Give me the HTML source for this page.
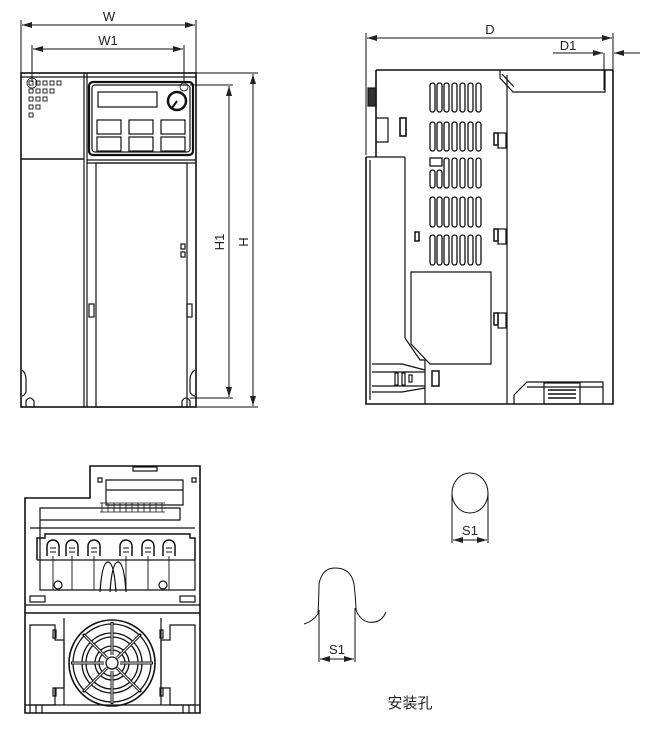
<!DOCTYPE html>
<html><head><meta charset="utf-8"><style>
html,body{margin:0;padding:0;background:#fff;}
svg{display:block;}
text{font-family:"Liberation Sans",sans-serif;fill:#222;}
</style></head><body>
<svg width="654" height="733" viewBox="0 0 654 733" xmlns="http://www.w3.org/2000/svg">
<defs>
<marker id="a" viewBox="0 0 10 6" refX="10" refY="3" markerWidth="10" markerHeight="6" orient="auto-start-reverse" markerUnits="userSpaceOnUse"><path d="M0,0 L10,3 L0,6 z" fill="#222"/></marker>
</defs>
<g fill="none" stroke="#111" stroke-width="1.2">
<!-- FRONT VIEW dims -->
<line x1="21" y1="20" x2="21" y2="73" stroke-width="1"/><line x1="196" y1="20" x2="196" y2="73" stroke-width="1"/>
<line x1="22" y1="25" x2="195" y2="25" stroke-width="1" marker-start="url(#a)" marker-end="url(#a)"/>
<line x1="32" y1="45" x2="32" y2="82" stroke-width="1"/><line x1="184" y1="45" x2="184" y2="82" stroke-width="1"/>
<line x1="33" y1="49" x2="183" y2="49" stroke-width="1" marker-start="url(#a)" marker-end="url(#a)"/>
<line x1="196" y1="73" x2="258" y2="73" stroke-width="1"/><line x1="196" y1="407" x2="258" y2="407" stroke-width="1"/>
<line x1="253" y1="74" x2="253" y2="406" stroke-width="1" marker-start="url(#a)" marker-end="url(#a)"/>
<line x1="190" y1="85" x2="233" y2="85" stroke-width="1"/><line x1="190" y1="398" x2="233" y2="398" stroke-width="1"/>
<line x1="229" y1="86" x2="229" y2="397" stroke-width="1" marker-start="url(#a)" marker-end="url(#a)"/>
<!-- front body -->
<rect x="21" y="73" width="175" height="334" stroke-width="1.6"/>
<line x1="21" y1="77" x2="196" y2="77"/>
<line x1="84" y1="73" x2="84" y2="407"/><line x1="87" y1="73" x2="87" y2="407"/>
<line x1="21" y1="159" x2="84" y2="159" stroke-width="1.6"/>
<line x1="87" y1="160" x2="196" y2="160"/>
<rect x="89" y="82" width="104" height="73" rx="4" stroke-width="2.2"/>
<rect x="92" y="85" width="98" height="67" rx="3"/>
<rect x="98" y="92" width="59" height="15"/>
<circle cx="177" cy="101" r="9" stroke-width="2.5"/><line x1="177" y1="101" x2="172" y2="108" stroke-width="2"/>
<rect x="97" y="120" width="24" height="14"/><rect x="129" y="120" width="24" height="14"/><rect x="161" y="120" width="24" height="14"/>
<rect x="97" y="137" width="24" height="14"/><rect x="129" y="137" width="24" height="14"/><rect x="161" y="137" width="24" height="14"/>
<circle cx="184" cy="87" r="4" stroke-width="0.8"/><circle cx="32" cy="83" r="5" stroke-width="0.8"/>
<rect x="96" y="163" width="91" height="244"/>
<line x1="87" y1="163" x2="196" y2="163"/>
<rect x="181" y="244" width="4" height="5"/><rect x="181" y="252" width="4" height="5"/>
<rect x="89" y="304" width="5" height="13"/><rect x="187" y="304" width="5" height="13"/>
<path d="M22 370 q4 3 4 10 v12 q-2 4 -4 4"/><path d="M195 370 q-5 3 -5 10 v12 q2 4 5 4"/>
<path d="M26 407 v-6 q4 -6 8 0 v6"/><path d="M182 407 v-6 q4 -6 8 0 v6"/>
<g stroke-width="0.9">
<rect x="29" y="81" width="4" height="4"/><rect x="36" y="81" width="4" height="4"/><rect x="43" y="81" width="4" height="4"/><rect x="50" y="81" width="4" height="4"/><rect x="57" y="81" width="4" height="4"/>
<rect x="29" y="89" width="4" height="4"/><rect x="36" y="89" width="4" height="4"/><rect x="43" y="89" width="4" height="4"/><rect x="50" y="89" width="4" height="4"/>
<rect x="29" y="97" width="4" height="4"/><rect x="36" y="97" width="4" height="4"/><rect x="43" y="97" width="4" height="4"/>
<rect x="29" y="105" width="4" height="4"/><rect x="36" y="105" width="4" height="4"/>
<rect x="29" y="113" width="4" height="4"/>
</g>
<!-- SIDE VIEW dims -->
<line x1="366" y1="33" x2="366" y2="155" stroke-width="1"/><line x1="613" y1="33" x2="613" y2="92" stroke-width="1"/>
<line x1="367" y1="38" x2="612" y2="38" stroke-width="1" marker-start="url(#a)" marker-end="url(#a)"/>
<line x1="553" y1="53" x2="603" y2="53" stroke-width="1" marker-end="url(#a)"/>
<line x1="640" y1="53" x2="614" y2="53" stroke-width="1" marker-end="url(#a)"/>
<line x1="604" y1="53" x2="604" y2="90" stroke-width="1"/>
<!-- side body -->
<path d="M376 70 H613 M376 70 V157 M366 157 V404 H613 V70" stroke-width="1.6"/>
<line x1="366" y1="157" x2="405" y2="157"/><line x1="405" y1="157" x2="405" y2="338"/>
<path d="M405 338 L420 360 H425 V404"/>
<line x1="370" y1="160" x2="370" y2="400"/>
<line x1="507" y1="75" x2="507" y2="404"/>
<path d="M500 70 V78 L513 92 H605 V70"/><line x1="502" y1="74" x2="514" y2="87"/>
<rect x="368" y="88" width="8" height="18" fill="#333"/>
<path d="M376 118 h12 v24 h-12"/><rect x="400" y="118" width="6" height="18" stroke-width="1.6"/>
<g stroke-width="1.3">
<rect x="430" y="83" width="5" height="29" rx="2.5"/><rect x="437" y="83" width="5" height="29" rx="2.5"/><rect x="444" y="83" width="5" height="29" rx="2.5"/><rect x="452" y="83" width="5" height="29" rx="2.5"/><rect x="460" y="83" width="5" height="29" rx="2.5"/><rect x="468" y="83" width="5" height="29" rx="2.5"/><rect x="476" y="83" width="5" height="29" rx="2.5"/>
<rect x="430" y="122" width="5" height="29" rx="2.5"/><rect x="437" y="122" width="5" height="29" rx="2.5"/><rect x="444" y="122" width="5" height="29" rx="2.5"/><rect x="452" y="122" width="5" height="29" rx="2.5"/><rect x="460" y="122" width="5" height="29" rx="2.5"/><rect x="468" y="122" width="5" height="29" rx="2.5"/><rect x="476" y="122" width="5" height="29" rx="2.5"/>
<rect x="430" y="158" width="12" height="8"/><rect x="430" y="170" width="5" height="18" rx="2.5"/><rect x="437" y="170" width="5" height="18" rx="2.5"/><rect x="444" y="158" width="5" height="30" rx="2.5"/><rect x="452" y="158" width="5" height="30" rx="2.5"/><rect x="460" y="158" width="5" height="30" rx="2.5"/><rect x="468" y="158" width="5" height="30" rx="2.5"/><rect x="476" y="158" width="5" height="30" rx="2.5"/>
<rect x="430" y="197" width="5" height="30" rx="2.5"/><rect x="437" y="197" width="5" height="30" rx="2.5"/><rect x="444" y="197" width="5" height="30" rx="2.5"/><rect x="452" y="197" width="5" height="30" rx="2.5"/><rect x="460" y="197" width="5" height="30" rx="2.5"/><rect x="468" y="197" width="5" height="30" rx="2.5"/><rect x="476" y="197" width="5" height="30" rx="2.5"/>
<rect x="430" y="235" width="5" height="30" rx="2.5"/><rect x="437" y="235" width="5" height="30" rx="2.5"/><rect x="444" y="235" width="5" height="30" rx="2.5"/><rect x="452" y="235" width="5" height="30" rx="2.5"/><rect x="460" y="235" width="5" height="30" rx="2.5"/><rect x="468" y="235" width="5" height="30" rx="2.5"/><rect x="476" y="235" width="5" height="30" rx="2.5"/>
</g>
<rect x="415" y="232" width="4" height="9" stroke-width="1.5"/>
<path d="M411 272 H491 V364 H430 L411 344 Z"/>
<rect x="494" y="133" width="4" height="12" stroke-width="1.5"/><rect x="498" y="133" width="8" height="15"/>
<rect x="494" y="229" width="4" height="12" stroke-width="1.5"/><rect x="498" y="229" width="8" height="15"/>
<rect x="494" y="313" width="4" height="12" stroke-width="1.5"/><rect x="498" y="313" width="8" height="15"/>
<path d="M372 364 H402 L425 370 M372 392 H402 L425 388 M372 372 H425 M372 386 H425"/>
<rect x="395" y="373" width="3" height="12"/><rect x="402" y="373" width="3" height="12"/><rect x="409" y="375" width="3" height="7"/>
<rect x="432" y="371" width="7" height="15" stroke-width="1.5"/>
<path d="M514 404 V395 L527 382 H603 V404"/><line x1="527" y1="387" x2="603" y2="387"/>
<rect x="544" y="383" width="36" height="21"/><g stroke-width="1.5"><line x1="548" y1="390" x2="576" y2="390"/><line x1="548" y1="394" x2="576" y2="394"/><line x1="548" y1="398" x2="576" y2="398"/></g>
<!-- BOTTOM VIEW -->
<path d="M25 713 V498 H90 V466 H200 V713 Z" stroke-width="1.6"/>
<line x1="25" y1="613" x2="200" y2="613" stroke-width="1.6"/>
<line x1="25" y1="605" x2="200" y2="605"/>
<rect x="133" y="467" width="24" height="4"/>
<rect x="98" y="478" width="4" height="4"/><rect x="192" y="478" width="4" height="4"/>
<path d="M106 480 H183 V505 H106 Z"/><line x1="106" y1="490" x2="183" y2="490"/>
<path d="M40 508 H180 V520 H40 Z M40 508 V560"/>
<g stroke-width="0.8"><line x1="100" y1="503" x2="165" y2="503"/><line x1="100" y1="512" x2="165" y2="512"/>
<path d="M102 503 v9 M108 503 v9 M114 503 v9 M120 503 v9 M126 503 v9 M132 503 v9 M138 503 v9 M144 503 v9 M150 503 v9 M156 503 v9 M162 503 v9"/></g>
<line x1="30" y1="528" x2="195" y2="528"/>
<path d="M37 560 V538 h8 v-4 h145 v4 h5 v22" stroke-width="1.5"/>
<g stroke-width="1.5">
<path d="M47 556 v-10 a6 6 0 0 1 12 0 v10"/><path d="M66 556 v-10 a6 6 0 0 1 12 0 v10"/><path d="M88 556 v-10 a6 6 0 0 1 12 0 v10"/>
<path d="M120 556 v-10 a6 6 0 0 1 12 0 v10"/><path d="M142 556 v-10 a6 6 0 0 1 12 0 v10"/><path d="M163 556 v-10 a6 6 0 0 1 12 0 v10"/>
</g>
<g stroke-width="0.9"><path d="M50 548 h6 M69 548 h6 M91 548 h6 M123 548 h6 M145 548 h6 M166 548 h6 M50 552 h6 M69 552 h6 M91 552 h6 M123 552 h6 M145 552 h6 M166 552 h6"/>
<path d="M53 556 v34 M72 556 v34 M94 556 v34 M126 556 v34 M148 556 v34 M169 556 v34"/></g>
<line x1="37" y1="560" x2="195" y2="560"/>
<path d="M40 560 V590 H195 V560"/>
<circle cx="58" cy="585" r="4"/><circle cx="163" cy="585" r="4"/>
<path d="M100 592 q2 -30 8 -30 q6 0 8 30 M110 592 q2 -30 8 -30 q6 0 8 30"/>
<rect x="30" y="596" width="15" height="6"/><rect x="180" y="596" width="15" height="6"/>
<path d="M30 625 H55 V640 H64 V688 H55 V705 H30 Z"/><path d="M195 625 H170 V640 H161 V688 H170 V705 H195 Z"/>
<path d="M64 618 V705 M161 618 V705"/>
<rect x="53" y="630" width="3" height="8"/><rect x="53" y="688" width="3" height="8"/><rect x="160" y="630" width="3" height="8"/><rect x="160" y="688" width="3" height="8"/>
<g transform="translate(112,663)">
<circle r="43" stroke-width="1.6"/><circle r="39" stroke-width="1.3"/>
<circle r="30" stroke-width="1.3"/><circle r="26" stroke-width="1.3"/>
<circle r="17" stroke-width="1.3"/><circle r="13" stroke-width="1.3"/><circle r="6" stroke-width="1.3"/>
<g stroke-width="3">
<line x1="0" y1="-41" x2="0" y2="-8"/><line x1="0" y1="41" x2="0" y2="8"/>
<line x1="-41" y1="0" x2="-8" y2="0"/><line x1="41" y1="0" x2="8" y2="0"/>
<line x1="-29" y1="-29" x2="-5" y2="-5"/><line x1="29" y1="29" x2="5" y2="5"/>
<line x1="29" y1="-29" x2="5" y2="-5"/><line x1="-29" y1="29" x2="-5" y2="5"/>
</g>
<g stroke="#fff" stroke-width="1">
<line x1="0" y1="-40" x2="0" y2="-8"/><line x1="0" y1="40" x2="0" y2="8"/>
<line x1="-40" y1="0" x2="-8" y2="0"/><line x1="40" y1="0" x2="8" y2="0"/>
<line x1="-28" y1="-28" x2="-5" y2="-5"/><line x1="28" y1="28" x2="5" y2="5"/>
<line x1="28" y1="-28" x2="5" y2="-5"/><line x1="-28" y1="28" x2="-5" y2="5"/>
</g>
</g>
<path d="M25 705 H200 M30 705 v8 M36 705 v8 M42 705 v8 M183 705 v8 M189 705 v8 M195 705 v8"/>
<!-- mounting holes -->
<ellipse cx="470" cy="493" rx="18" ry="20" stroke-width="1"/>
<line x1="452" y1="493" x2="452" y2="543" stroke-width="1"/><line x1="488" y1="493" x2="488" y2="543" stroke-width="1"/>
<line x1="453" y1="540" x2="470" y2="540" stroke-width="1" marker-start="url(#a)"/><line x1="470" y1="540" x2="487" y2="540" stroke-width="1" marker-end="url(#a)"/>
<path d="M304 624 q8 -2 14 -10 q1 -20 1 -30 q3 -16 16 -16 q16 0 19 16 q2 18 2 26 q4 10 12 12 q13 2 18 -10" stroke-width="1"/>
<line x1="319" y1="610" x2="319" y2="662" stroke-width="1"/><line x1="355" y1="608" x2="355" y2="662" stroke-width="1"/>
<line x1="320" y1="659" x2="337" y2="659" stroke-width="1" marker-start="url(#a)"/><line x1="337" y1="659" x2="354" y2="659" stroke-width="1" marker-end="url(#a)"/>
</g>
<g font-size="13">
<text x="109" y="21" text-anchor="middle">W</text>
<text x="108" y="45" text-anchor="middle">W1</text>
<text x="490" y="34" text-anchor="middle">D</text>
<text x="568" y="50" text-anchor="middle">D1</text>
<text x="470" y="535" text-anchor="middle">S1</text>
<text x="337" y="654" text-anchor="middle">S1</text>
<text transform="translate(224,242) rotate(-90)" text-anchor="middle">H1</text>
<text transform="translate(248,242) rotate(-90)" text-anchor="middle">H</text>
<text x="410" y="708" text-anchor="middle" font-size="15" style="font-family:'Liberation Sans','Noto Sans CJK SC',sans-serif">安装孔</text>
</g>
</svg>
</body></html>
